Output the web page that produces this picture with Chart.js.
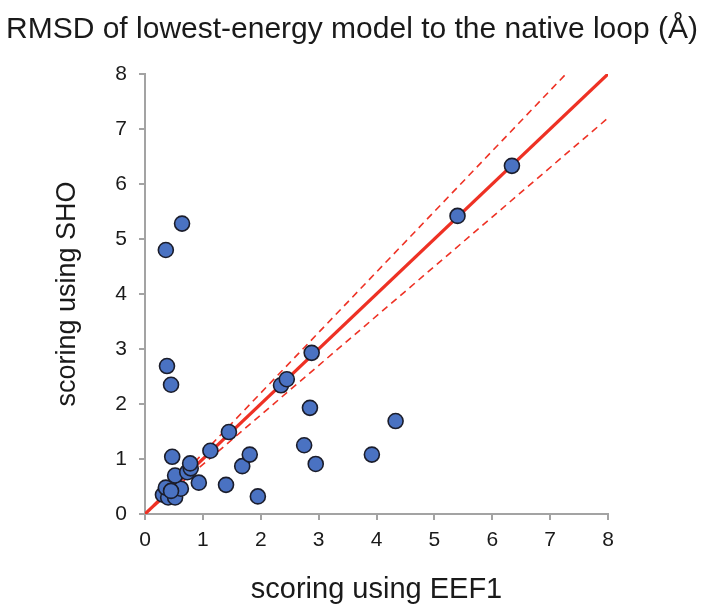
<!DOCTYPE html>
<html>
<head>
<meta charset="utf-8">
<script src="https://cdn.jsdelivr.net/npm/chart.js@4/dist/chart.umd.min.js"></script>
<style>
  html, body { margin: 0; padding: 0; background: #fff; }
  #chartRmsd { display: block; }
</style>
</head>
<body>
<canvas id="chartRmsd" width="704" height="616"></canvas>
<script>
// RMSD (Å) del modelo de menor energía: EEF1 (x) contra SHO (y)
const rmsdEEF1 = [0.64, 0.36, 0.38, 0.45, 0.47, 0.31, 0.40, 0.36, 0.52, 0.62, 0.45,
  0.52, 0.73, 0.79, 0.78, 0.93, 1.13, 1.45, 1.40, 1.68, 1.81, 1.95,
  2.35, 2.45, 2.88, 2.85, 2.75, 2.95, 3.92, 4.33, 5.40, 6.34];
const rmsdSHO = [5.28, 4.80, 2.69, 2.35, 1.04, 0.35, 0.30, 0.48, 0.30, 0.46, 0.42,
  0.70, 0.76, 0.83, 0.92, 0.57, 1.15, 1.49, 0.53, 0.87, 1.08, 0.32,
  2.34, 2.45, 2.93, 1.93, 1.25, 0.91, 1.08, 1.69, 5.42, 6.33];

const axisTicks = [0, 1, 2, 3, 4, 5, 6, 7, 8];
const diagonalSlope = 1;
const bandSlopes = [1.1, 0.9];

const axisMax = axisTicks[axisTicks.length - 1];
const axisGrey = "#a3a3a3";
const rojo = "#ee3124";
const fuente = "Liberation Sans, Arial, sans-serif";

// linea y = m x recortada al cuadro 0..8
const lineaPendiente = (m) => [
  { x: 0, y: 0 },
  { x: Math.min(axisMax, axisMax / m), y: Math.min(axisMax, axisMax * m) },
];

const puntos = rmsdEEF1.map((x, i) => ({ x: x, y: rmsdSHO[i] }));

const canvas = document.getElementById("chartRmsd");
const context = canvas.getContext("2d");

const chartRmsd = new Chart(context, {
  type: "scatter",
  data: {
    datasets: [
      {
        label: "loops",
        data: puntos,
        backgroundColor: "#4a72c2",
        borderColor: "#1b1d2b",
        borderWidth: 1.6,
        pointRadius: 7.5,
        order: 0,
      },
      {
        label: "y = x",
        data: lineaPendiente(diagonalSlope),
        showLine: true,
        borderColor: rojo,
        borderWidth: 3.2,
        pointRadius: 0,
        order: 1,
      },
      ...bandSlopes.map((m) => ({
        label: "y = " + m + "x",
        data: lineaPendiente(m),
        showLine: true,
        borderColor: rojo,
        borderWidth: 1.6,
        borderDash: [7, 5],
        pointRadius: 0,
        order: 2,
      })),
    ],
  },
  options: {
    responsive: false,
    animation: false,
    layout: {
      padding: 0,
    },
    plugins: {
      legend: { display: false },
      tooltip: { enabled: false },
      title: {
        display: true,
        text: "RMSD of lowest-energy model to the native loop (Å)",
        color: "#1a1a1a",
        font: { family: fuente, size: 30, weight: "normal" },
        padding: { top: 12, bottom: 26 },
      },
    },
    scales: {
      x: {
        type: "linear",
        min: 0,
        max: axisMax,
        afterBuildTicks: (scale) => {
          scale.ticks = axisTicks.map((v) => ({ value: v }));
        },
        afterFit: (scale) => {
          scale.height = 102;
        },
        ticks: {
          color: "#1a1a1a",
          padding: 8,
          font: { family: fuente, size: 21 },
        },
        grid: {
          drawOnChartArea: false,
          drawTicks: true,
          tickLength: 6,
          color: axisGrey,
          lineWidth: 2,
        },
        border: { color: axisGrey, width: 2 },
        title: {
          display: true,
          text: "scoring using EEF1",
          color: "#1a1a1a",
          font: { family: fuente, size: 29 },
          padding: { top: 18, bottom: 9 },
        },
      },
      y: {
        type: "linear",
        min: 0,
        max: axisMax,
        afterBuildTicks: (scale) => {
          scale.ticks = axisTicks.map((v) => ({ value: v }));
        },
        afterFit: (scale) => {
          scale.width = 145;
        },
        ticks: {
          color: "#1a1a1a",
          padding: 12,
          font: { family: fuente, size: 21 },
        },
        grid: {
          drawOnChartArea: false,
          drawTicks: true,
          tickLength: 6,
          color: axisGrey,
          lineWidth: 2,
        },
        border: { color: axisGrey, width: 2 },
        title: {
          display: true,
          text: "scoring using SHO",
          color: "#1a1a1a",
          font: { family: fuente, size: 27 },
          padding: { top: 51, bottom: 0 },
        },
      },
      // eje vacio a la derecha, solo reserva el margen blanco
      margenDerecho: {
        type: "linear",
        position: "right",
        min: 0,
        max: axisMax,
        afterFit: (scale) => {
          scale.width = 96;
        },
        ticks: { display: false },
        grid: { display: false },
        border: { display: false },
      },
    },
  },
});
</script>
</body>
</html>
